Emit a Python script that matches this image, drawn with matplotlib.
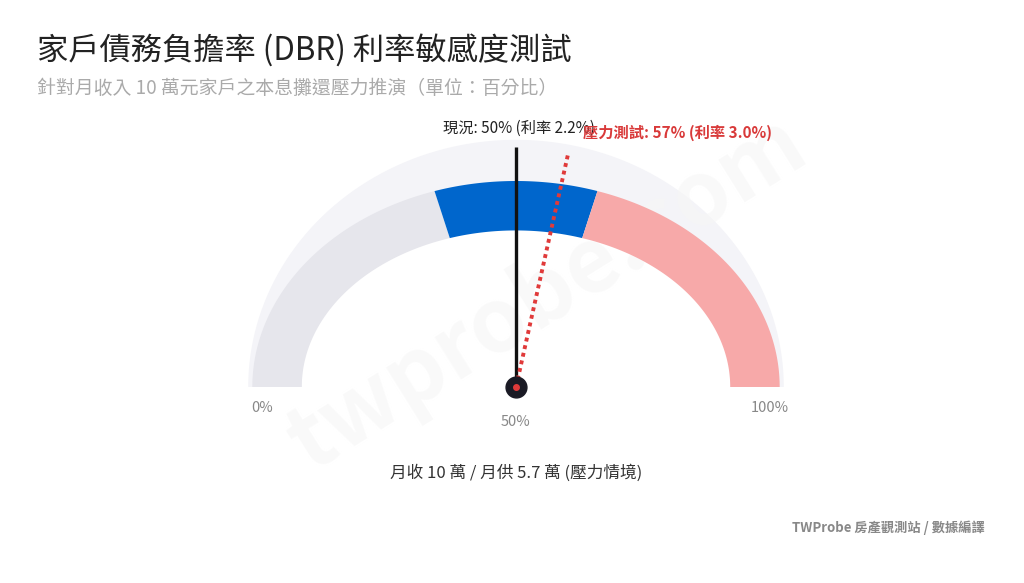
import numpy as np
import matplotlib.pyplot as plt
from matplotlib.patches import Polygon

plt.rcParams['font.family'] = ['Noto Sans CJK TC', 'DejaVu Sans']

# données
zone_start = [0, 40, 60]
zone_end = [40, 60, 100]
zone_colors = ['#e6e6ec', '#0066cc', '#f7a9a9']
tick_values = [0, 50, 100]
tick_labels = ['0%', '50%', '100%']
current_dbr = 50
current_rate = 2.2
stress_dbr = 57
stress_rate = 3.0
income = 10
payment = 5.7

W, H = 1024, 583
fig = plt.figure(figsize=(W / 100, H / 100), dpi=100)
ax = fig.add_axes([0, 0, 1, 1])
unit = 206.0
cx, cy = 516, 387
ax.set_xlim(-cx / unit, (W - cx) / unit)
ax.set_ylim(-(H - cy) / unit, cy / unit)
ax.axis('off')

# bande elliptique, épaisseur constante
rx_out, ry_out = 1.28, 1.0
thick = 0.24


def band(v0, v1, rxo, ryo, th, color, z):
    t = np.linspace(np.pi * (1 - v0 / 100), np.pi * (1 - v1 / 100), 100)
    xo = rxo * np.cos(t)
    yo = ryo * np.sin(t)
    xi = (rxo - th) * np.cos(t[::-1])
    yi = (ryo - th) * np.sin(t[::-1])
    pts = np.column_stack([np.r_[xo, xi], np.r_[yo, yi]])
    ax.add_patch(Polygon(pts, closed=True, fc=color, ec='none', zorder=z))


# halo très pâle derrière
band(0, 100, 1.3, 1.2, 0.26, '#f4f4f8', 1)

for s, e, c in zip(zone_start, zone_end, zone_colors):
    band(s, e, rx_out, ry_out, thick, c, 2)

# filigrane
ax.text(0.15, 0.45, 'twprobe.com', fontsize=64, color='#f6f6f6', rotation=32,
        ha='center', va='center', fontweight='bold', zorder=1.5, alpha=0.6)

# aiguilles
L = 1.165
a = np.pi * (1 - current_dbr / 100)
ax.plot([0, L * np.cos(a)], [0, L * np.sin(a)], color='#111111', lw=2.4,
        solid_capstyle='butt', zorder=4)
b = np.pi * (1 - stress_dbr / 100)
ax.plot([0, L * np.cos(b)], [0, L * np.sin(b)], color='#e03a3a', lw=2.8,
        linestyle=(0, (1, 1)), zorder=5)
ax.plot([0], [0], 'o', color='#1a1a24', ms=15, zorder=6)
ax.plot([0], [0], 'o', color='#e03a3a', ms=4, zorder=7)

ax.text(0.015, 1.257, f'現況: {current_dbr}% (利率 {current_rate}%)', fontsize=11,
        color='#222222', ha='center', va='center', zorder=8)
ax.text(0.325, 1.233, f'壓力測試: {stress_dbr}% (利率 {stress_rate:.1f}%)', fontsize=11,
        color='#d93a3a', ha='left', va='center', fontweight='bold', zorder=8)

# graduations
for v, lab in zip(tick_values, tick_labels):
    t = np.pi * (1 - v / 100)
    ax.text(1.233 * np.cos(t), -0.102 - 0.068 * np.sin(t), lab, fontsize=10.5,
            color='#888888', ha='center', va='center')

ax.text(0, -0.418, f'月收 {income} 萬 / 月供 {payment} 萬 (壓力情境)', fontsize=12,
        color='#333333', ha='center', va='center')

fig.text(37 / W, 1 - 50 / H, '家戶債務負擔率 (DBR) 利率敏感度測試', fontsize=22.5,
         color='#222222', ha='left', va='center', fontweight='medium')
fig.text(37 / W, 1 - 88 / H, '針對月收入 10 萬元家戶之本息攤還壓力推演（單位：百分比）',
         fontsize=13.6, color='#aaaaaa', ha='left', va='center')
fig.text(985 / W, 1 - 528 / H, 'TWProbe 房產觀測站 / 數據編譯', fontsize=9.5,
         color='#888888', ha='right', va='center', fontweight='bold')

fig.savefig('out.png', dpi=100, facecolor='white')
